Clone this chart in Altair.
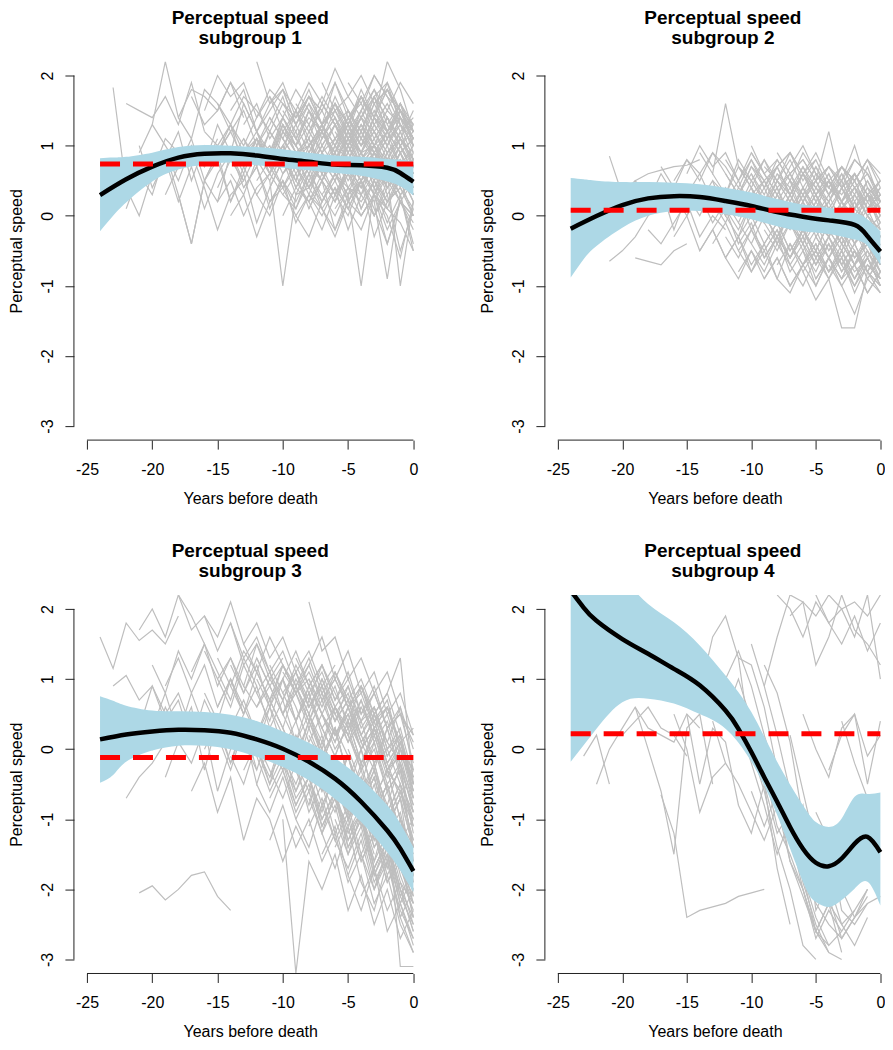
import altair as alt
import pandas as pd

# ---------------- axis ticks / domains ----------------
X_TICKS = [-25, -20, -15, -10, -5, 0]
Y_TICKS = [-3, -2, -1, 0, 1, 2]
X_DOMAIN_LEFT = [-26, 1]       # left column: full R range
X_DOMAIN_RIGHT = [-26, 0.35]   # right column: reference is cropped at the page edge
Y_DOMAIN = [-3.2, 2.2]

TITLES = [["Perceptual speed", "subgroup  1"],
          ["Perceptual speed", "subgroup  2"],
          ["Perceptual speed", "subgroup  3"],
          ["Perceptual speed", "subgroup  4"]]

# ---------------- red dashed reference levels ----------------
RED_LEVEL = [0.74, 0.077, -0.12, 0.22]
RED_X = [-24, 0]

# ---------------- mean curves ----------------
P1_MEAN_X = [-24, -22, -20, -18, -16, -14, -12, -10, -8, -6, -4, -2, -1, 0]
P1_MEAN = [0.295, 0.52, 0.70, 0.83, 0.884, 0.89, 0.86, 0.81, 0.77, 0.73, 0.72, 0.685, 0.61, 0.485]
P2_MEAN_X = [-24, -22, -20, -18, -16, -14, -12, -10, -8, -6, -4, -2, -1, 0]
P2_MEAN = [-0.184, -0.004, 0.153, 0.248, 0.28, 0.267, 0.21, 0.14, 0.053, -0.013, -0.066, -0.13, -0.29, -0.51]
P3_MEAN_X = [-24, -22, -20, -18, -16, -14, -12, -10, -8, -6, -4, -2, -1, 0]
P3_MEAN = [0.139, 0.21, 0.253, 0.276, 0.27, 0.234, 0.139, 0.006, -0.18, -0.42, -0.75, -1.16, -1.42, -1.74]
P4_MEAN_X = [-24, -23, -22, -20, -18, -16, -14, -12, -11, -10, -9, -8, -7, -6, -5, -4, -3, -2, -1, 0]
P4_MEAN = [2.26, 2.02, 1.83, 1.57, 1.36, 1.145, 0.91, 0.55, 0.29, -0.04, -0.40, -0.75, -1.11, -1.42,
           -1.62, -1.67, -1.56, -1.35, -1.25, -1.47]

# ---------------- confidence bands ----------------
P1_BAND_X = [-24, -23, -22, -20, -18, -16, -14, -12, -10, -8, -6, -4, -2, -1, 0]
P1_UP = [0.82, 0.83, 0.84, 0.90, 0.98, 1.01, 1.0, 0.98, 0.95, 0.90, 0.86, 0.84, 0.81, 0.80, 0.78]
P1_LO = [-0.22, 0.0, 0.19, 0.49, 0.66, 0.73, 0.76, 0.72, 0.685, 0.65, 0.61, 0.57, 0.49, 0.42, 0.29]
P2_BAND_X = [-24, -23, -22, -20, -18, -16, -14, -12, -10, -8, -6, -4, -2, -1, 0]
P2_UP = [0.54, 0.52, 0.50, 0.48, 0.48, 0.47, 0.45, 0.40, 0.33, 0.24, 0.16, 0.115, 0.044, -0.05, -0.22]
P2_LO = [-0.88, -0.62, -0.43, -0.17, 0.0, 0.067, 0.067, 0.02, -0.05, -0.15, -0.22, -0.26, -0.34, -0.43, -0.70]
P3_BAND_X = [-24, -23, -22, -20, -18, -16, -14, -12, -10, -8, -6, -4, -2, -1, 0]
P3_UP = [0.756, 0.69, 0.62, 0.55, 0.54, 0.53, 0.49, 0.40, 0.25, 0.09, -0.13, -0.42, -0.80, -1.06, -1.40]
P3_LO = [-0.48, -0.37, -0.18, -0.02, 0.05, 0.05, 0.0, -0.11, -0.255, -0.445, -0.71, -1.04, -1.47, -1.73, -2.04]
P4_BAND_X = [-24, -22, -20, -18, -16, -14, -12, -10, -8, -6, -5, -4, -3, -2, -1, 0]
P4_UP = [3.3, 2.85, 2.45, 2.07, 1.81, 1.48, 1.05, 0.53, -0.18, -0.80, -1.04, -1.11, -0.99, -0.68, -0.64, -0.62]
P4_LO = [-0.18, 0.29, 0.67, 0.72, 0.65, 0.50, 0.29, -0.18, -0.94, -1.89, -2.18, -2.25, -2.15, -1.99, -1.89, -2.23]

# ---------------- individual trajectories (first year, yearly values) ----------------
P1_TRAJ = [
    (-23, [1.83, 0.4, 0.0, 0.6, 1.1, 0.9]),
    (-22, [1.6, 1.5, 1.4, 1.7, 1.3, 1.9, 1.2]),
    (-22, [0.1, 0.6, 0.3, 0.9, 0.5, 1.0, 0.7, 1.1]),
    (-21, [1.0, 0.4, 0.8, 0.2, 0.7, 0.1, 0.6, 0.9, 0.5]),
    (-21, [0.9, 1.3, 1.0, 0.7, 1.1, 0.5, 0.9, 1.2]),
    (-20, [1.3, 2.2, 1.4, 1.8, 1.7, 1.5, 1.9, 1.6]),
    (-20, [0.6, 0.9, 0.3, -0.4, 0.5, 0.8, 0.2, 0.7, 1.0, 0.6]),
    (-19, [0.8, 1.2, 0.5, 1.0, 0.9, 1.3, 0.7, 1.1, 0.6, 1.2, 0.9]),
    (-19, [0.3, 0.7, 0.9, 0.4, -0.2, 0.3, 0.5]),
    (-18, [1.4, 1.1, 1.8, 1.6, 1.2, 1.5, 1.0, 1.3, 1.7, 1.1, 1.4, 1.2]),
    (-18, [0.3, -0.4, 0.5, 0.2, 0.9, 0.4, 0.7, 0.1, 0.6, 0.8]),
    (-17, [1.0, 0.7, 1.3, 0.9, 1.6, 1.2, 0.8, 1.4, 1.1, 1.5, 1.0, 1.3, 0.9]),
    (-17, [1.7, 1.3, 1.5, 1.9, 1.4]),
    (-16, [0.5, 0.9, 0.2, 0.6, -0.1, 0.4, 0.8, 0.3, 0.7, 0.5, 0.9, 0.4]),
    (-16, [1.5, 2.0, 1.7, 1.9, 1.4, 1.8, 1.6, 1.3, 1.7, 1.5]),
    (-16, [1.2, 1.0, 1.3, 0.9, 1.1, 0.8, 1.2, 1.0, 1.3, 0.9, 1.1, 1.4, 1.0, 1.2, 0.9, 1.1, 0.8]),
    (-15, [0.9, 1.2, 0.8, 1.1, 0.7, 1.3, 0.9, 1.0, 1.2, 0.8, 1.1, 0.9, 1.0, 0.7, 0.8, 0.6]),
    (-15, [0.2, 0.5, 0.0, 0.4, 0.6, 0.3, 0.1, 0.5, 0.2, 0.6, 0.4, 0.3]),
    (-15, [1.6, 1.3, 1.7, 1.5, 1.2, 1.6, 1.4, 1.8, 1.3, 1.5, 1.1]),
    (-15, [0.4, 0.8, 0.5, 0.9, 0.6, 1.0, 0.7, 0.4, 0.8, 0.6, 1.0, 0.7, 0.9, 0.5, 0.8, 0.4]),
    (-14, [1.3, 1.0, 1.4, 1.7, 1.2, 1.5, 1.1, 1.6, 1.3, 1.0, 1.4, 1.2, 0.9, 1.1, 0.8]),
    (-14, [0.6, 0.3, 0.8, 0.5, 0.9, 0.4, 0.7, 0.2, 0.6, 0.3, 0.5]),
    (-14, [0.0, 0.3, -0.3, 0.2, 0.4, 0.0, 0.3, 0.1, -0.2, 0.2, 0.0, 0.3, 0.1, -0.1, -0.5]),
    (-14, [1.0, 0.6, 1.1, 0.8, 1.3, 0.9, 0.6, 1.0, 0.7, 1.2, 0.8, 1.0, 0.6, 0.9, 0.5]),
    (-14, [1.5, 1.8, 1.2, 1.6, 1.9, 1.4, 1.7, 1.3, 1.6, 1.1, 1.4, 1.7, 1.2, 1.5]),
    (-14, [0.8, 1.1, 0.7, 1.2, 0.9, 0.5, 1.0, 0.7, 1.1, 0.8, 0.5, 0.9, 0.6, 1.0, 0.7]),
    (-13, [1.1, 0.8, 1.2, 0.9, 1.5, 1.0, 1.3, 0.8, 1.1, 1.4, 1.0, 1.2, 0.9, 1.1]),
    (-13, [0.4, 0.7, 0.2, 0.5, 0.1, 0.6, 0.3, 0.0, 0.4, 0.2, 0.5, 0.1]),
    (-13, [0.7, 0.3, 0.6, 0.9, 0.4, 0.8, 0.5, 0.2, 0.6, 0.9, 0.4, 0.7, 0.3, 0.5]),
    (-13, [1.3, 1.6, 1.1, 1.4, 1.0, 1.5, 1.2, 1.7, 1.3, 1.0, 1.4, 1.1, 1.5, 1.2]),
    (-13, [0.9, 1.2, 0.7, 1.0, 0.6, 0.9, 1.3, 0.8, 1.1, 0.7, 1.0, 0.8, 1.2, 0.7]),
    (-13, [1.6, 1.2, 1.5, 1.8, 1.3, 1.6, 1.1, 1.5, 1.2, 1.7, 1.3, 1.0, 1.4, 1.1]),
    (-12, [2.2, 1.6, 1.8, 1.3, 1.7, 1.5, 1.9, 1.4, 1.6, 1.2, 1.5, 1.3, 1.1]),
    (-12, [0.8, 1.0, 0.6, 0.9, 1.1, 0.7, 1.0, 0.8, 1.2, 0.9, 0.7, 1.0, 0.6]),
    (-12, [1.0, 1.4, 1.1, 0.8, 1.2, 1.5, 1.1, 1.3, 1.0, 1.4, 1.2, 0.9, 1.1]),
    (-12, [0.3, 0.0, 0.5, 0.2, 0.6, 0.1, 0.4, -0.2, 0.3, 0.0, 0.5, 0.2, -0.1]),
    (-12, [1.2, 0.9, 1.4, 1.1, 0.8, 1.3, 1.0, 1.5, 1.1, 0.8, 1.2, 1.4, 0.9]),
    (-12, [0.5, 0.8, 0.4, 0.7, 0.3, 0.8, 0.5, 0.9, 0.6, 0.3, 0.7, 0.5, 0.8]),
    (-12, [1.1, 0.7, 1.0, 1.3, 0.9, 1.2, 0.8, 1.1, 1.4, 1.0, 0.7, 1.1, 0.8]),
    (-11, [0.5, -1.0, 0.3, 0.4, 0.7, 0.3, 0.6, 0.1, 0.5, 0.2, 0.4, 0.0]),
    (-11, [1.4, 1.1, 1.5, 1.2, 1.6, 1.3, 1.0, 1.4, 1.7, 1.2, 1.5, 1.1]),
    (-11, [0.7, 0.4, 0.8, 0.5, 0.9, 0.6, 0.8, 0.5, 0.7, 0.4, 0.6, 0.3]),
    (-11, [0.9, 1.3, 1.0, 0.7, 1.1, 1.4, 0.9, 1.2, 0.8, 1.1, 1.3, 1.0]),
    (-11, [0.2, 0.5, -0.1, 0.3, 0.0, 0.4, 0.1, 0.5, -0.3, 0.2, 0.4, 0.1]),
    (-11, [1.7, 1.4, 1.8, 1.5, 1.2, 1.6, 1.3, 1.7, 1.4, 1.8, 1.5, 1.3]),
    (-11, [0.4, 0.8, 0.5, 0.9, 0.6, 0.3, 0.7, 0.4, 0.8, 0.5, 0.9, 0.6]),
    (-10, [0.9, 1.2, 0.7, 1.0, 1.3, 0.8, 1.1, 0.9, 1.2, 0.7, 1.0]),
    (-10, [0.3, 0.6, 0.1, 0.5, 0.8, 0.2, 0.6, 0.4, -0.1, 0.3, 0.5]),
    (-10, [1.1, 0.8, 1.0, 1.3, 1.6, 1.2, 1.5, 2.0, 1.7, 1.3, 1.0]),
    (-10, [0.6, 0.9, 0.4, 0.8, 0.5, 1.0, 0.7, 0.3, 0.8, 0.5, 0.9]),
    (-10, [1.3, 1.0, 1.5, 1.2, 0.9, 1.4, 1.1, 1.6, 1.2, 1.5, 1.1]),
    (-10, [0.0, 0.4, 0.2, -0.2, 0.3, 0.0, 0.5, 0.1, -0.4, 0.2, 0.0]),
    (-10, [1.8, 1.5, 1.9, 1.6, 2.1, 1.7, 1.4, 1.8, 1.5, 1.9, 1.6]),
    (-10, [1.5, 1.2, 1.6, 1.3, 1.0, 1.4, 1.7, 1.3, 1.6, 1.2, 1.4]),
    (-9, [1.6, 1.3, 1.7, 1.4, 1.1, 1.5, 1.8, 1.3, 1.6, 1.2]),
    (-9, [0.7, 0.4, 0.9, 0.6, 0.3, 0.8, 0.5, 0.9, 0.4, 0.7]),
    (-9, [0.0, -0.3, 0.2, 0.5, 0.1, -0.2, 0.3, 0.0, -0.6, 0.2]),
    (-9, [1.0, 0.7, 1.2, 0.9, 1.3, 0.8, 1.1, 1.4, 1.0, 1.2]),
    (-9, [0.5, 0.2, 0.6, 0.3, 0.7, 0.1, 0.5, 0.2, 0.6, 0.3]),
    (-9, [1.4, 1.7, 1.3, 1.9, 1.5, 1.2, 1.6, 1.8, 1.4, 1.1]),
    (-9, [0.8, 1.1, 0.6, 0.9, 1.2, 0.7, 1.0, 0.6, 0.9, 0.5]),
    (-8, [1.0, 1.3, 0.8, 1.2, 0.9, 1.4, 1.0, 1.3, 0.8]),
    (-8, [0.2, 0.5, -0.2, 0.3, -1.0, 0.4, 0.1, 0.6, 0.2]),
    (-8, [0.8, 0.5, 1.0, 0.6, 0.9, 0.4, 0.8, 0.5, 0.7]),
    (-8, [1.5, 1.2, 1.6, 1.3, 1.7, 1.4, 1.9, 1.5, 1.2]),
    (-8, [0.4, 0.1, -0.3, 0.2, 0.5, 0.0, 0.3, -0.5, 0.1]),
    (-8, [0.1, 0.5, 0.2, 0.7, 0.3, 0.6, 0.2, 0.5, 0.0]),
    (-8, [1.2, 0.9, 1.3, 1.0, 1.5, 1.1, 1.4, 1.0, 1.3]),
    (-7, [1.9, 1.5, 1.7, 2.0, 1.6, 1.8, 1.4, 1.2]),
    (-7, [0.6, 0.9, 0.5, 0.8, 1.1, 0.7, 1.0, 0.6]),
    (-7, [1.1, 1.4, 1.0, 1.3, 0.9, 1.2, 1.5, 1.0]),
    (-7, [0.3, 0.6, 0.2, 0.5, 0.0, 0.4, 0.7, 0.3]),
    (-7, [0.9, 0.6, 1.1, 0.7, 1.0, 0.5, 0.8, 0.4]),
    (-7, [1.6, 1.3, 1.5, 1.2, 1.7, 1.4, 1.1, 1.5]),
    (-7, [0.5, 0.2, 0.7, 0.4, 0.8, 0.3, 0.6, 0.2]),
    (-6, [1.2, 0.9, 1.3, 1.0, 1.4, 1.1, 0.8]),
    (-6, [0.4, 0.1, 0.5, 0.2, -0.9, 0.3, -0.4]),
    (-6, [1.6, 1.3, 1.8, 1.4, 1.2, 1.6, 1.3]),
    (-6, [0.7, 1.0, 0.6, 0.9, 0.5, 0.8, 0.6]),
    (-6, [0.1, 0.4, 0.0, 0.3, -0.2, 0.2, 0.0]),
    (-6, [1.0, 1.3, 0.9, 1.2, 0.8, 1.1, 0.7]),
    (-6, [0.3, 0.7, 0.4, 0.8, 0.5, 0.9, 0.4]),
    (-5, [1.5, 1.2, 1.7, 1.9, 1.3, 1.0]),
    (-5, [0.8, 0.5, 0.9, 0.6, -1.0, 0.2]),
    (-5, [1.2, 0.9, 1.3, 1.0, 1.4, 1.1]),
    (-5, [0.4, 0.7, 0.3, 0.6, 0.2, 0.5]),
    (-5, [1.9, 1.6, 2.0, 1.7, 1.5, 1.3]),
    (-5, [1.4, 1.1, 1.5, 1.2, 1.6, 1.0]),
    (-5, [0.6, 0.3, 0.8, 0.4, 0.7, 0.3]),
    (-4, [1.0, 1.4, 2.2, 1.8, 1.2]),
    (-4, [0.6, 0.9, 0.4, 0.7, 0.3]),
    (-4, [1.3, 1.0, 1.4, 1.1, 0.9]),
    (-4, [0.0, 0.3, -0.4, 0.2, -0.2]),
    (-4, [1.7, 1.4, 1.8, 1.5, 1.1]),
    (-4, [0.9, 0.6, 1.0, 0.5, 0.8]),
    (-3, [0.5, 0.9, 1.2, 0.7]),
    (-3, [1.5, 1.1, 1.6, 1.2]),
    (-3, [0.8, 1.1, 0.7, 0.5]),
    (-3, [0.2, 0.6, 0.3, -0.5]),
    (-2, [1.3, 1.0, 0.6]),
]

P2_TRAJ = [
    (-21, [0.85, 0.3, 0.5, 0.2, 0.4]),
    (-21, [-0.65, -0.5, -0.3, 0.0, 0.2, 0.1]),
    (-20, [0.3, 0.5, 0.6, 0.65, 0.7, 0.72, 0.8]),
    (-19, [-0.6, -0.65, -0.7, -0.5, -0.4]),
    (-19, [0.5, 0.2, 0.6, 0.3, 0.0, 0.4, 0.1]),
    (-18, [0.1, 0.4, -0.2, 0.3, 0.6, 0.2, -0.1, 0.3]),
    (-18, [-0.2, -0.4, -0.1, 0.2, -0.3, 0.0, -0.2]),
    (-17, [0.7, 0.4, 0.8, 0.5, 0.9, 0.6, 0.3, 0.7, 0.5]),
    (-16, [-0.3, 0.0, -0.5, -0.2, 0.1, -0.4, -0.1, -0.6, -0.3, 0.0]),
    (-16, [0.5, 0.8, 0.6, 0.9, 0.7, 0.4, 0.8, 0.5, 0.7, 0.9, 0.6, 0.8]),
    (-15, [0.6, 1.0, 0.7, 0.9, 0.5, 0.8, 0.4, 0.7, 0.3, 0.6, 0.2]),
    (-15, [0.3, 0.0, 0.4, 0.1, -0.2, 0.2, -0.1, 0.3, 0.0, -0.3, 0.1, -0.2, 0.0, -0.4, -0.1, -0.3]),
    (-15, [0.0, 0.3, -0.1, 0.2, 0.5, 0.1, 0.4, 0.0, 0.3, -0.1, 0.2, 0.5, 0.1, 0.3, 0.0, -0.2]),
    (-14, [0.2, 0.5, 0.0, 0.3, -0.2, 0.1, 0.4, -0.1, 0.2, -0.3, 0.0, -0.2, 0.1]),
    (-14, [0.9, 0.6, 1.6, 0.7, 0.5, 0.8, 0.4, 0.6, 0.3, 0.5]),
    (-14, [-0.5, -0.2, -0.6, -0.3, -0.7, -0.4, -0.1, -0.5, -0.2, -0.6, -0.3, -0.7, -0.4, -0.8, -0.5]),
    (-13, [-0.2, -0.6, -0.3, -0.8, -0.5, -0.2, -0.7, -0.4, -0.9, -0.6, -0.3, -0.7, -0.5, -0.9]),
    (-13, [0.5, 0.3, 0.7, 0.4, 0.1, 0.5, 0.2, 0.6, 0.3, 0.0, 0.4, 0.1, 0.3, 0.2]),
    (-13, [0.1, 0.4, 0.0, 0.3, 0.5, 0.2, -0.1, 0.3, 0.0, 0.2, -0.2, 0.1, -0.1, -0.3]),
    (-13, [0.3, 0.0, 0.4, 0.2, -0.1, 0.3, 0.0, 0.4, 0.1, -0.2, 0.2, 0.0, -0.3, -0.1]),
    (-13, [-0.4, -0.1, -0.5, -0.2, -0.6, -0.3, 0.0, -0.4, -0.1, -0.5, -0.2, -0.6, -0.4, -0.7]),
    (-13, [0.6, 0.3, 0.8, 0.5, 0.2, 0.6, 0.4, 0.7, 0.3, 0.5, 0.2, 0.4, 0.1, 0.3]),
    (-12, [0.0, -0.3, 0.2, -0.1, -0.4, 0.1, -0.2, -0.5, -0.1, -0.4, -0.2, -0.6, -0.3]),
    (-12, [0.8, 0.5, 0.9, 0.6, 0.3, 0.7, 1.0, 0.6, 0.4, 0.7, 0.5, 0.8, 0.4]),
    (-12, [-0.6, -0.9, -0.5, -0.8, -0.4, -0.7, -1.0, -0.6, -0.9, -0.5, -0.8, -0.6, -1.0]),
    (-12, [0.6, 0.3, 0.7, 0.4, 0.8, 0.5, 0.2, 0.6, 0.3, 0.7, 0.4, 0.1, 0.3]),
    (-12, [0.2, -0.1, 0.3, 0.0, -0.3, 0.1, -0.2, 0.2, -0.1, -0.4, 0.0, -0.3, -0.5]),
    (-12, [-0.3, -0.6, -0.2, -0.5, -0.9, -0.4, -0.7, -1.0, -0.6, -0.9, -0.5, -0.8, -1.1]),
    (-12, [0.4, 0.1, 0.5, 0.2, -0.1, 0.3, 0.0, 0.4, 0.1, -0.2, 0.2, -0.1, -0.3]),
    (-11, [-0.5, -0.8, -0.4, -0.9, -1.1, -0.7, -0.5, -0.8, -0.6, -1.0, -0.7, -0.9]),
    (-11, [0.3, 0.6, 0.2, 0.5, 0.8, 0.4, 0.1, 0.5, 0.3, 0.6, 0.2, 0.4]),
    (-11, [0.7, 0.4, 0.8, 0.5, 0.3, 0.6, 0.9, 0.5, 0.7, 0.4, 0.6, 0.3]),
    (-11, [-0.1, -0.4, 0.0, -0.3, -0.6, -0.2, -0.5, -0.1, -0.4, -0.7, -0.3, -0.6]),
    (-11, [-0.8, -0.5, -0.9, -0.6, -1.0, -0.7, -0.4, -0.8, -0.5, -0.9, -0.6, -1.0]),
    (-11, [-0.3, 0.0, -0.4, -0.1, -0.5, -0.2, -0.6, -0.3, -0.7, -0.4, -0.8, -0.5]),
    (-11, [0.1, 0.4, -0.1, 0.2, 0.5, 0.0, 0.3, -0.2, 0.1, 0.4, 0.0, 0.2]),
    (-10, [1.0, 0.6, 0.3, 0.6, 0.2, 0.5, 0.1, 0.4, 0.0, 0.3, -0.1]),
    (-10, [-0.2, 0.1, -0.4, -0.1, -0.5, -0.2, -0.6, -0.3, -0.7, -0.4, -0.8]),
    (-10, [0.6, 0.3, 0.7, 0.9, 0.5, 0.8, 0.4, 0.7, 0.5, 0.8, 0.6]),
    (-10, [0.4, 0.1, 0.5, 0.2, 0.6, 0.3, 0.0, 0.4, 0.1, 0.5, 0.2]),
    (-10, [-0.4, -0.7, -0.3, -0.6, -0.2, -0.5, -0.8, -0.4, -0.7, -0.3, -0.6]),
    (-10, [0.9, 0.6, 0.8, 0.5, 0.9, 0.6, 0.4, 0.7, 0.5, 0.8, 0.5]),
    (-10, [0.2, 0.5, 0.1, 0.4, 0.0, 0.3, 0.6, 0.2, 0.5, 0.1, 0.3]),
    (-9, [0.4, 0.7, 0.3, 0.6, 0.2, 0.5, 0.1, 0.4, 0.2, 0.5]),
    (-9, [-0.6, -0.3, -0.8, -0.5, -1.0, -0.6, -0.9, -0.7, -1.1, -0.8]),
    (-9, [0.1, 0.4, 0.0, 0.3, -0.1, 0.2, 0.5, 0.1, 0.4, 0.0]),
    (-9, [0.7, 0.5, 0.9, 0.6, 0.4, 0.7, 0.5, 0.8, 0.6, 0.3]),
    (-9, [-0.2, -0.5, -0.1, -0.4, -0.7, -0.3, -0.6, -0.2, -0.5, -0.8]),
    (-9, [-0.5, -0.2, -0.6, -0.3, -0.7, -0.4, -0.8, -0.5, -0.9, -0.6]),
    (-9, [-0.9, -0.6, -1.0, -0.7, -0.4, -0.8, -0.5, -0.9, -0.6, -1.0]),
    (-8, [0.9, 0.6, 0.8, 0.5, 0.7, 0.4, 0.6, 0.3, 0.5]),
    (-8, [0.0, -0.2, 0.2, -0.1, -0.3, 0.0, -0.4, -0.2, -0.5]),
    (-8, [-0.3, -0.6, -0.2, -0.5, -0.1, -0.4, -0.7, -0.3, -0.6]),
    (-8, [0.3, 0.0, 0.4, 0.1, 0.5, 0.2, -0.1, 0.3, 0.0]),
    (-8, [-0.7, -0.4, -0.8, -0.5, -0.9, -0.6, -1.1, -0.7, -0.9]),
    (-8, [0.6, 0.3, 0.7, 0.4, 0.2, 0.5, 0.1, 0.4, 0.2]),
    (-7, [-0.4, -0.7, -0.3, -0.6, -0.9, -0.5, -0.8, -1.0]),
    (-7, [0.5, 0.3, 0.7, 0.4, 0.2, 0.6, 0.3, 0.1]),
    (-7, [0.1, 0.4, 0.0, 0.3, -0.1, 0.2, -0.2, 0.0]),
    (-7, [-0.6, -0.3, -0.7, -0.4, -0.8, -0.5, -0.9, -0.6]),
    (-7, [0.6, 0.8, 0.5, 0.7, 0.4, 0.6, 0.3, 0.5]),
    (-7, [-0.1, -0.4, 0.1, -0.2, -0.5, -0.1, -0.4, -0.7]),
    (-6, [0.2, 0.5, 1.2, 0.4, 0.6, 0.3, 0.0]),
    (-6, [-0.8, -1.2, -0.9, -1.6, -1.6, -0.8, -1.0]),
    (-6, [-0.2, 0.1, -0.3, 0.0, -0.4, -0.1, -0.5]),
    (-6, [0.4, 0.7, 0.3, 0.6, 0.2, 0.5, 0.1]),
    (-6, [0.0, 0.3, -0.1, 0.2, -0.2, 0.1, -0.3]),
    (-6, [-0.5, -0.8, -0.4, -0.7, -1.0, -0.6, -0.9]),
    (-5, [0.6, 0.3, 0.5, 1.0, 0.4, 0.2]),
    (-5, [-0.3, -0.6, -0.2, -0.5, -0.8, -0.4]),
    (-5, [0.0, -0.3, 0.1, -0.2, 0.2, -0.1]),
    (-5, [-0.9, -0.6, -1.0, -0.7, -1.1, -0.8]),
    (-5, [0.3, 0.6, 0.2, 0.5, 0.1, 0.4]),
    (-5, [0.5, 0.2, 0.6, 0.3, 0.7, 0.2]),
    (-4, [0.1, -0.2, 0.3, 0.0, -0.3]),
    (-4, [-0.7, -1.0, -1.4, -0.9, -1.1]),
    (-4, [-0.5, -0.2, -0.6, -0.3, -0.7]),
    (-4, [0.5, 0.2, 0.6, 0.3, 0.1]),
    (-4, [-0.2, -0.5, -0.1, -0.4, -0.8]),
    (-3, [0.4, 0.8, 0.6, 0.2]),
    (-3, [-0.1, -0.4, 0.0, -0.3]),
    (-3, [-0.6, -0.9, -0.5, -0.8]),
    (-3, [0.2, -0.1, 0.3, -0.2]),
]

P3_TRAJ = [
    (-24, [1.6, 1.15, 1.8, 1.55, 1.7, 1.5, 1.9]),
    (-23, [0.9, 1.05, 0.7, 0.9, 0.5, 0.8, 0.3]),
    (-22, [-0.7, -0.4, -0.2, 0.1, 0.4]),
    (-22, [0.6, 0.3, 0.9, 0.4, 0.7, 0.1, 0.5]),
    (-21, [1.7, 2.0, 1.6, 2.2, 1.9, 1.5]),
    (-21, [-2.05, -1.95, -2.15, -2.0, -1.8, -1.75, -2.1, -2.3]),
    (-21, [0.4, 0.0, 0.6, 0.2, 0.8, 0.3]),
    (-20, [0.3, 0.8, 0.2, 0.6, -0.3, 0.4, 0.0, 0.5]),
    (-20, [1.2, 0.8, 1.4, 1.0, 1.5, 1.1, 0.7, 1.3, 0.9]),
    (-19, [-0.4, 0.1, -0.2, 0.3, -0.6, 0.0, 0.4, -0.3]),
    (-19, [0.9, 1.3, 0.8, 1.2, 0.6, 1.0, 0.5]),
    (-18, [2.2, 1.7, 1.9, 1.4, 1.8, 1.2, 1.5, 1.0, 1.3]),
    (-18, [0.5, 0.1, 0.7, 0.3, -0.2, 0.4, 0.0, -0.5, 0.2, -0.3]),
    (-17, [1.1, 1.5, 0.9, 1.3, 0.8, 1.2, 0.6, 1.0, 0.4, 0.8, 0.2]),
    (-17, [-0.6, -0.2, -0.9, -0.4, -1.3, -0.7, -1.0, -1.6, -1.1, -1.5]),
    (-16, [1.9, 1.6, 2.1, 1.5, 1.8, 1.3, 1.6, 1.1, 1.4, 0.9, 1.2]),
    (-16, [0.8, 0.4, 1.0, 0.6, 0.2, 0.7, 0.3, -0.2, 0.4, -0.1, 0.3, -0.4]),
    (-16, [0.0, 0.4, -0.2, 0.3, -0.5, 0.1, -0.3, -0.8, -0.4, -1.1, -0.7, -1.3, -0.9, -1.7, -1.3, -2.0, -2.6]),
    (-16, [1.4, 1.0, 1.3, 0.9, 1.5, 1.1, 0.7, 1.2, 0.8, 1.1, 0.6, 0.9, 0.4, 0.6, 0.1, -0.2, -0.7]),
    (-15, [0.2, -0.3, 0.3, -0.1, -0.6, -0.2, -0.8, -0.4, -1.0, -0.6, -1.2, -0.9, -1.5]),
    (-15, [1.3, 0.9, 1.4, 1.1, 0.7, 1.2, 0.8, 1.0, 0.5, 0.9, 0.3, 0.6]),
    (-15, [0.6, 1.0, 0.5, 0.9, 0.3, 0.7, 0.1, 0.5, -0.1, 0.3, -0.4, 0.0, -0.7, -0.3, -1.0, -1.4]),
    (-15, [1.0, 0.6, 1.2, 0.8, 1.1, 0.5, 0.9, 0.4, 0.8, 0.2, 0.5, 0.0, 0.3, -0.3, -0.6, -1.0]),
    (-14, [0.9, 0.5, 1.1, 0.7, 1.0, 0.4, 0.8, 0.3, 0.6, 0.1, 0.4, -0.2, 0.0, -0.5, -0.9]),
    (-14, [-0.1, -0.5, 0.1, -0.3, -0.7, -0.2, -0.9, -0.5, -1.2, -0.8, -1.5, -1.1, -1.8, -1.4]),
    (-14, [1.8, 1.3, 1.6, 1.1, 1.4, 0.9, 1.2, 1.6, 1.0, 1.4, 0.8, 1.1, 0.5, 0.8, 0.2]),
    (-14, [0.3, 0.7, 0.2, 0.6, 0.0, 0.4, -0.2, 0.2, -0.5, -0.1, -0.8, -0.4, -1.1, -0.7, -1.4]),
    (-14, [1.2, 0.8, 1.3, 0.9, 0.5, 1.0, 0.6, 0.9, 0.4, 0.7, 0.1, 0.4, -0.2, 0.1, -0.5]),
    (-13, [1.5, 1.1, 1.6, 1.2, 0.9, 1.3, 0.8, 1.1, 0.6, 0.9, 0.4, 0.7, 0.0, -0.4]),
    (-13, [0.4, 0.0, 0.6, 0.2, -0.3, 0.3, -0.2, -0.6, -0.1, -0.8, -0.4, -1.1, -0.7, -1.4]),
    (-13, [0.9, 0.6, 1.0, 0.7, 1.1, 0.6, 0.9, 0.4, 0.7, 0.2, 0.5, -0.1, 0.2, -0.5]),
    (-13, [-0.3, 0.1, -0.5, -0.1, -0.7, -0.4, -1.0, -0.6, -1.3, -0.9, -1.6, -1.2, -1.9, -2.2]),
    (-13, [0.1, -0.3, 0.3, -0.1, -0.5, 0.0, -0.6, -0.2, -0.9, -0.5, -1.2, -0.8, -1.5, -1.9]),
    (-12, [1.0, 0.6, 1.2, 0.8, 0.4, 0.9, 0.5, 0.1, 0.6, 0.2, -0.3, 0.1, -0.6]),
    (-12, [-0.5, -0.9, -0.4, -1.0, -1.4, -0.8, -1.3, -1.7, -1.2, -1.9, -1.5, -2.2, -1.8]),
    (-12, [0.0, -0.4, 0.2, -0.2, -0.6, -0.1, -0.5, -0.9, -0.4, -1.0, -0.6, -1.3, -1.0]),
    (-12, [0.6, 0.9, 0.5, 0.8, 0.3, 0.7, 0.2, 0.5, 0.0, 0.3, -0.3, -0.1, -0.8]),
    (-12, [1.3, 0.9, 1.2, 0.8, 1.1, 0.7, 1.0, 0.6, 0.8, 0.3, 0.6, 0.0, -0.3]),
    (-12, [0.8, 0.4, 1.0, 0.6, 0.1, 0.5, 0.0, 0.3, -0.3, 0.0, -0.6, -0.3, -1.1]),
    (-11, [0.7, 0.3, 0.9, 0.5, 0.0, 0.6, 0.2, -0.3, 0.3, -0.2, -0.7, -0.3]),
    (-11, [1.2, 0.8, 1.1, 0.6, 1.0, 0.5, 0.8, 0.2, 0.6, 0.0, 0.3, -0.4]),
    (-11, [-1.3, -0.8, -1.4, -1.0, -1.6, -1.2, -1.9, -1.5, -2.2, -1.8, -2.5, -2.9]),
    (-11, [0.1, -0.3, 0.2, -0.2, -0.6, -0.1, -0.7, -0.3, -0.9, -0.5, -1.2, -1.6]),
    (-11, [-0.7, -0.3, -0.9, -0.5, -1.1, -0.7, -1.4, -1.0, -1.7, -1.3, -2.0, -2.4]),
    (-11, [-0.4, 0.0, -0.6, -0.2, -0.8, -0.4, -1.0, -0.7, -1.4, -1.1, -1.7, -2.1]),
    (-10, [-1.0, -3.2, -1.6, -2.0, -1.5, -2.3, -1.8, -2.5, -2.0, -2.7, -2.3]),
    (-10, [0.5, 0.1, 0.7, 0.3, -0.1, 0.4, -0.2, 0.2, -0.4, 0.0, -0.6]),
    (-10, [1.0, 1.4, 0.9, 1.2, 0.7, 1.0, 0.5, 0.8, 0.3, 0.5, 0.1]),
    (-10, [0.8, 0.4, 0.9, 0.5, 0.2, 0.6, 0.1, 0.4, -0.2, 0.1, -0.5]),
    (-10, [-0.2, -0.6, -0.1, -0.5, -0.9, -0.4, -1.1, -0.7, -1.4, -1.0, -1.8]),
    (-10, [1.1, 0.8, 1.2, 0.7, 1.0, 0.6, 0.9, 0.4, 0.6, 0.1, 0.3]),
    (-10, [0.3, -0.1, 0.4, 0.0, -0.5, -0.1, -0.7, -0.3, -1.0, -0.6, -1.3]),
    (-9, [1.3, 0.9, 1.2, 0.7, 1.1, 0.5, 0.9, 0.3, 0.6, 0.0]),
    (-9, [-0.3, -0.8, -0.2, -0.7, -1.1, -0.6, -1.2, -1.6, -1.0, -1.7]),
    (-9, [0.4, 0.9, 0.5, 0.1, 0.6, 0.2, -0.2, 0.3, -0.3, -0.8]),
    (-9, [0.0, -0.4, 0.1, -0.3, -0.8, -0.2, -0.9, -0.5, -1.3, -1.8]),
    (-9, [-1.0, -0.6, -1.2, -0.8, -1.5, -1.1, -1.8, -1.4, -2.1, -2.5]),
    (-9, [0.9, 0.5, 1.0, 0.6, 0.3, 0.7, 0.2, 0.5, -0.1, -0.4]),
    (-9, [1.1, 0.7, 1.2, 0.8, 0.4, 0.9, 0.3, 0.6, 0.0, -0.3]),
    (-8, [2.1, 1.4, 1.6, 1.0, 1.3, 0.8, 1.1, 0.5, 0.2]),
    (-8, [0.2, -0.2, 0.3, -0.4, -0.8, -0.3, -1.0, -0.6, -1.3]),
    (-8, [-0.7, -1.2, -0.6, -1.4, -1.0, -1.8, -1.3, -2.1, -1.7]),
    (-8, [0.5, 0.1, 0.6, 0.2, -0.2, 0.3, -0.3, 0.0, -0.7]),
    (-8, [-0.4, -0.9, -0.3, -1.0, -0.6, -1.3, -0.9, -1.7, -2.2]),
    (-8, [1.0, 0.6, 1.1, 0.7, 0.4, 0.8, 0.3, 0.5, -0.2]),
    (-8, [-1.1, -0.7, -1.3, -0.9, -1.6, -1.2, -1.9, -1.6, -2.4]),
    (-7, [-1.2, -1.7, -1.1, -1.9, -2.3, -1.6, -2.4, -2.0]),
    (-7, [0.8, 0.4, 0.9, 0.3, 0.6, 0.0, 0.2, -0.5]),
    (-7, [-0.2, 0.3, -0.1, -0.6, -0.2, -0.9, -0.5, -1.4]),
    (-7, [-1.5, -1.1, -1.8, -1.3, -2.0, -1.6, -2.3, -2.7]),
    (-7, [0.3, -0.1, 0.4, -0.2, 0.1, -0.5, -0.2, -0.9]),
    (-7, [-0.8, -0.4, -1.0, -0.6, -1.3, -0.9, -1.6, -2.0]),
    (-7, [0.5, 0.1, 0.6, 0.0, 0.3, -0.3, -0.6, -1.1]),
    (-6, [-0.5, -1.0, -0.4, -1.2, -0.8, -1.5, -2.4]),
    (-6, [1.1, 0.7, 1.0, 0.5, 0.8, 0.2, -0.7]),
    (-6, [0.6, 0.2, 0.7, 0.1, 0.4, -0.2, -0.9]),
    (-6, [-1.0, -1.5, -0.9, -1.7, -1.3, -2.0, -2.6]),
    (-6, [-0.2, -0.6, 0.0, -0.7, -0.3, -1.0, -1.5]),
    (-6, [-1.4, -1.0, -1.6, -1.2, -1.9, -1.5, -2.2]),
    (-5, [-1.8, -2.3, -1.7, -2.6, -2.2, -2.8]),
    (-5, [0.0, -0.5, 0.1, -0.6, -0.3, -1.2]),
    (-5, [0.4, 0.0, 0.5, -0.1, 0.2, -0.6]),
    (-5, [-1.2, -0.8, -1.4, -1.0, -1.8, -2.3]),
    (-5, [-0.6, -1.0, -0.5, -1.2, -0.9, -1.7]),
    (-5, [-0.3, -0.7, -0.2, -0.9, -0.5, -1.4]),
    (-4, [-1.0, -1.6, -0.9, -3.1, -3.1]),
    (-4, [0.9, 0.5, 0.8, 1.3, -0.5]),
    (-4, [-1.5, -2.0, -1.4, -2.2, -2.7]),
    (-4, [0.1, -0.3, 0.3, -0.4, -1.0]),
    (-4, [-0.8, -0.4, -1.1, -0.7, -1.9]),
    (-4, [-2.1, -1.7, -2.3, -1.9, -2.5]),
    (-3, [-2.0, -1.5, -2.4, -2.9]),
    (-3, [-0.3, -0.8, -0.2, -1.6]),
    (-3, [-1.2, -1.7, -1.1, -2.1]),
    (-3, [0.5, 0.1, 0.6, -0.3]),
    (-3, [-0.9, -0.5, -1.2, -1.8]),
]

P4_TRAJ = [
    (-23, [-0.1, 0.2, -0.5]),
    (-22, [-0.5, 0.0, 0.3, 0.6, 0.3, 0.2, 0.1, 0.5, 0.3]),
    (-20, [0.2, 0.4, 0.6, 0.3, 0.2, -0.1]),
    (-19, [0.6, 0.0, -0.6, -1.5, 0.3, 0.5, -0.5]),
    (-17, [-0.65, -1.2, -2.4, -2.3, -2.25, -2.2, -2.1, -2.05, -2.0]),
    (-16, [0.5, 0.0, -0.9, -0.4, -0.2]),
    (-15, [0.5, -0.5, 0.3, 0.1, -0.8, -1.2, -0.5, -1.7, -2.5]),
    (-14, [0.8, 1.6, 1.9, 1.3, 0.0, -0.6, -1.4, -2.0, -2.8, -3.0]),
    (-13, [0.4, -0.2, -0.5, -0.9, -1.3, -0.8, -1.6, -2.1, -2.6, -2.8]),
    (-12, [1.0, 1.4, 0.9, 0.2, -0.4, -1.0, -1.8, -2.4, -2.8, -2.6, -2.3, -2.0]),
    (-12, [0.5, 1.0, 0.4, -0.3, -1.1, -1.5, -2.0, -2.6, -2.9]),
    (-11, [1.3, 1.2, 0.6, -0.3, -1.2, -2.0, -2.6, -2.2, -2.5, -2.3]),
    (-11, [0.4, -0.2, -0.8, -1.5, -1.0, -1.9, -2.5, -2.9, -3.0]),
    (-10, [0.3, -0.5, -1.2, -0.9, -1.8, -2.6, -2.2, -2.9]),
    (-10, [-0.6, -1.1, -0.6, -1.6, -2.0, -2.7, -2.3, -2.6]),
    (-10, [1.5, 0.9, 0.2, -0.6, -1.4, -2.2, -2.5, -2.7, -2.4, -2.2]),
    (-9, [1.2, 0.8, 0.1, -1.0, -1.5, -2.2, -2.0, -2.4, -2.1]),
    (-9, [0.9, 1.6, 2.2, 2.1, 1.9, 2.2, 2.0, 2.1, 1.9, 2.2]),
    (-8, [-0.5, -1.2, -0.8, -2.3, -1.9, -2.5, -2.8, -2.4]),
    (-8, [2.2, 2.0, 1.6, 2.1, 1.8, 1.5, 1.9, 1.4, 1.8]),
    (-7, [0.2, -0.6, -1.4, -2.1, -2.7, -2.4, -2.0]),
    (-7, [1.9, 2.1, 1.2, 1.6, 2.2, 1.7, 1.5, 1.2]),
    (-6, [0.5, 0.0, -0.4, 0.3, 0.5, -0.1, 0.2]),
    (-5, [-0.9, -1.3, -2.3, -2.5, -2.2, -2.1]),
    (-5, [2.2, 1.8, 2.0, 1.6, 2.2, 1.0]),
    (-4, [-0.3, 0.2, 0.5, -0.5, 0.4]),
    (-3, [0.4, -0.2, -0.7]),
]

PANELS = [
    (P1_TRAJ, P1_MEAN_X, P1_MEAN, P1_BAND_X, P1_UP, P1_LO),
    (P2_TRAJ, P2_MEAN_X, P2_MEAN, P2_BAND_X, P2_UP, P2_LO),
    (P3_TRAJ, P3_MEAN_X, P3_MEAN, P3_BAND_X, P3_UP, P3_LO),
    (P4_TRAJ, P4_MEAN_X, P4_MEAN, P4_BAND_X, P4_UP, P4_LO),
]

FONT = "Liberation Sans"
PX_PER_YEAR_LEFT = 13.07
PX_PER_YEAR_RIGHT = 12.92
H = 379

ys = alt.Scale(domain=Y_DOMAIN, nice=False, zero=False)

xax = alt.Axis(values=X_TICKS, title="Years before death", domain=False, grid=False,
               ticks=True, tickSize=9, tickColor="#222222", tickWidth=1,
               labelFont=FONT, labelFontSize=16, labelColor="black", labelPadding=12.5,
               labelExpr="'' + datum.value", labelFlush=False, labelOverlap=False,
               titleFont=FONT, titleFontSize=16, titleFontWeight="normal",
               titleColor="black", titlePadding=12.5)
yax = alt.Axis(values=Y_TICKS, title="Perceptual speed", domain=False, grid=False,
               ticks=True, tickSize=9, tickColor="#222222", tickWidth=1,
               labelFont=FONT, labelFontSize=16, labelColor="black", labelPadding=9,
               labelAngle=270, labelAlign="center", labelBaseline="bottom",
               labelExpr="'' + datum.value", labelFlush=False, labelOverlap=False,
               titleFont=FONT, titleFontSize=16, titleFontWeight="normal",
               titleColor="black", titlePadding=15.3)


def panel(k):
    traj, mx, mv, bx, bu, bl = PANELS[k]
    left = (k % 2 == 0)
    xdom = X_DOMAIN_LEFT if left else X_DOMAIN_RIGHT
    ppy = PX_PER_YEAR_LEFT if left else PX_PER_YEAR_RIGHT
    xs = alt.Scale(domain=xdom, nice=False, zero=False)
    width = round((xdom[1] - xdom[0]) * ppy, 1)

    def X(f):
        return alt.X(f, type="quantitative", scale=xs, axis=xax)

    def Y(f):
        return alt.Y(f, type="quantitative", scale=ys, axis=yax)

    rows = []
    for j, (start, vals) in enumerate(traj):
        for i, v in enumerate(vals):
            rows.append({"id": j, "x": start + i, "y": v})
    df_traj = pd.DataFrame(rows)
    df_mean = pd.DataFrame({"x": mx, "m": mv})
    df_band = pd.DataFrame({"x": bx, "hi": bu, "lo": bl})
    df_red = pd.DataFrame({"x0": [RED_X[0]], "x1": [RED_X[1]], "lev": [RED_LEVEL[k]]})
    df_xl = pd.DataFrame({"a": [min(X_TICKS)], "b": [max(X_TICKS)], "c": [Y_DOMAIN[0]]})
    df_yl = pd.DataFrame({"a": [min(Y_TICKS)], "b": [max(Y_TICKS)], "c": [xdom[0]]})

    gray = alt.Chart(df_traj).mark_line(color="#BEBEBE", strokeWidth=1.2, clip=True).encode(
        x=X("x"), y=Y("y"), detail="id:N")
    band = alt.Chart(df_band).mark_area(color="#ADD8E6", opacity=1, interpolate="natural",
                                         clip=True).encode(x=X("x"), y=Y("lo"), y2="hi")
    mean = alt.Chart(df_mean).mark_line(color="black", strokeWidth=4.5, interpolate="natural",
                                         clip=True).encode(x=X("x"), y=Y("m"))
    red = alt.Chart(df_red).mark_rule(color="#FF0000", strokeWidth=5, strokeDash=[20, 13]).encode(
        x=X("x0"), x2="x1", y=Y("lev"))
    xline = alt.Chart(df_xl).mark_rule(color="#222222", strokeWidth=1).encode(
        x=X("a"), x2="b", y=Y("c"))
    yline = alt.Chart(df_yl).mark_rule(color="#222222", strokeWidth=1).encode(
        x=X("c"), y=Y("a"), y2="b")

    dx = 0 if left else 8
    return alt.layer(gray, band, mean, red, xline, yline).properties(
        width=width, height=H,
        title=alt.TitleParams(text=TITLES[k], font=FONT, fontSize=19, fontWeight="bold",
                              color="black", anchor="middle", offset=8, lineHeight=19.5,
                              dx=dx, dy=-6))


top = alt.hconcat(panel(0), panel(1), spacing=52.5)
bottom = alt.hconcat(panel(2), panel(3), spacing=52.5)
chart = alt.vconcat(top, bottom, spacing=36).properties(
    padding=0, background="white"
).configure_view(stroke=None)

chart.save("out.html", embed_options={"renderer": "svg", "actions": False})
